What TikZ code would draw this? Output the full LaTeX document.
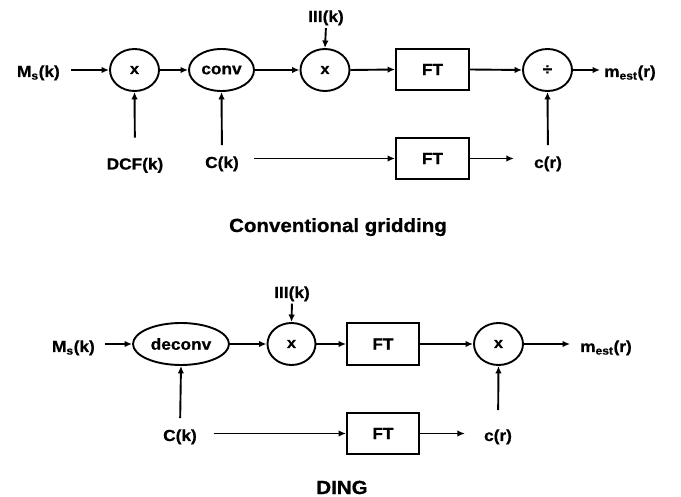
\documentclass[tikz,border=0pt]{standalone}
\usepackage{fontspec}
\setmainfont{Liberation Sans}[FakeStretch=1.08, BoldFeatures={FakeBold=0.8}]
\usetikzlibrary{shapes.geometric,arrows.meta}
\begin{document}
\begin{tikzpicture}[x=1pt,y=-1pt,
  font=\fontsize{16}{18}\selectfont\bfseries,
  lab/.style={inner sep=0pt, anchor=base},
  oval/.style={ellipse, draw, line width=1.9pt, inner sep=0pt, minimum height=42pt},
  sym/.style={font=\fontsize{15}{17}\selectfont\bfseries},
  box/.style={rectangle, draw, line width=1.9pt, inner sep=0pt, minimum width=73pt, minimum height=41pt},
  arr/.style={line width=1.9pt, -{Latex[length=7.5pt,width=6.5pt]}},
  ttl/.style={inner sep=0pt, anchor=base, font=\fontsize{19}{21}\selectfont\bfseries}]
\useasboundingbox (0,0) rectangle (681,497);

% ---------- Conventional gridding ----------
\node[lab, anchor=base east] (ms1) at (60,77) {M\textsubscript{s}(k)};
\node[oval, sym, minimum width=49pt] (x1) at (134.5,70) {x};
\node[oval, minimum width=65pt] (conv) at (221.5,70) {conv};
\node[oval, sym, minimum width=49pt] (x2) at (325,70) {x};
\node[box] (ft1) at (432.5,69.5) {FT};
\node[oval, minimum width=49pt] (div) at (547.5,70) {÷};
\node[lab, anchor=base west] (mest1) at (604,77) {m\textsubscript{est}(r)};
\node[lab] (iii1) at (326,22) {III(k)};
\node[lab] (dcf) at (135,169.5) {DCF(k)};
\node[lab] (ck1) at (222,168) {C(k)};
\node[box] (ft2) at (432.5,158.5) {FT};
\node[lab] (cr1) at (548,168) {c(r)};
\node[ttl] (title1) at (338,232) {Conventional gridding};

\draw[arr, shorten <=11pt] (ms1.east |- x1.west) -- (x1.west);
\draw[arr] (x1.east) -- (conv.west);
\draw[arr] (conv.east) -- (x2.west);
\draw[arr] (x2.east) -- (ft1.west);
\draw[arr] (ft1.east) -- (div.west);
\draw[arr, shorten >=4pt] (div.east) -- (mest1.west |- div.east);
\draw[arr, shorten <=2.6pt] (iii1.south) -- (x2.north);
\draw[arr, shorten <=20pt] (dcf.north) -- (x1.south);
\draw[arr, shorten <=11pt] (ck1.north) -- (conv.south);
\draw[arr, shorten <=15pt] (ck1.east |- ft2.west) -- (ft2.west);
\draw[arr, shorten >=20pt] (ft2.east) -- (cr1.west |- ft2.east);
\draw[arr, shorten <=11pt] (cr1.north) -- (div.south);

% ---------- DING ----------
\node[lab, anchor=base east] (ms2) at (95,352) {M\textsubscript{s}(k)};
\node[oval, minimum width=96pt] (deconv) at (181,344) {deconv};
\node[oval, sym, minimum width=48pt] (x3) at (291.5,344) {x};
\node[box, minimum width=72pt, minimum height=42pt] (ft3) at (383,344) {FT};
\node[oval, sym, minimum width=49pt] (x4) at (498.5,344) {x};
\node[lab, anchor=base west] (mest2) at (580,352) {m\textsubscript{est}(r)};
\node[lab] (iii2) at (292,298) {III(k)};
\node[lab] (ck2) at (180,441) {C(k)};
\node[box, minimum width=72pt] (ft4) at (383,433.5) {FT};
\node[lab] (cr2) at (498,441) {c(r)};
\node[ttl] (title2) at (342,494) {DING};

\draw[arr, shorten <=10pt] (ms2.east |- deconv.west) -- (deconv.west);
\draw[arr] (deconv.east) -- (x3.west);
\draw[arr] (x3.east) -- (ft3.west);
\draw[arr] (ft3.east) -- (x4.west);
\draw[arr, shorten >=10pt] (x4.east) -- (mest2.west |- x4.east);
\draw[arr, shorten <=2pt] (iii2.south) -- (x3.north);
\draw[arr, shorten <=11pt] (ck2.north) -- (deconv.south);
\draw[arr, shorten <=16.5pt] (ck2.east |- ft4.west) -- (ft4.west);
\draw[arr, shorten >=19pt] (ft4.east) -- (cr2.west |- ft4.east);
\draw[arr, shorten <=19pt] (cr2.north) -- (x4.south);
\end{tikzpicture}
\end{document}
